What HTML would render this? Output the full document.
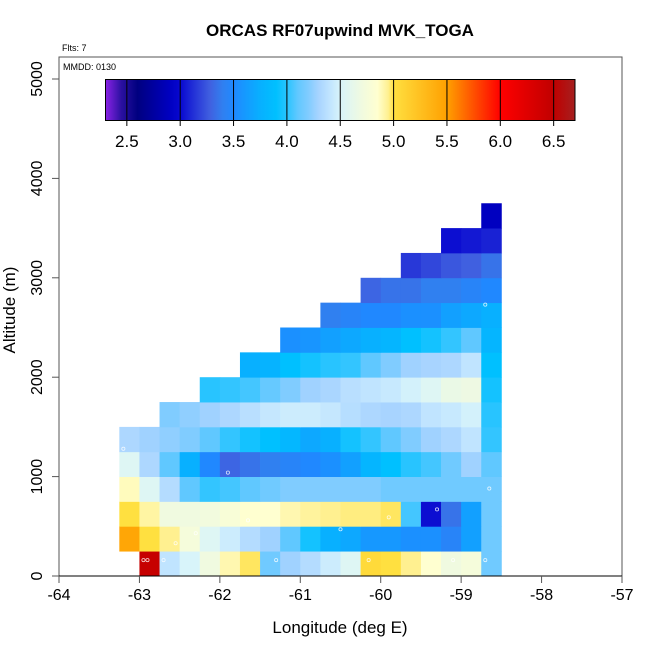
<!DOCTYPE html>
<html><head><meta charset="utf-8">
<style>
html,body{margin:0;padding:0;background:#fff;}
svg{display:block;font-family:"Liberation Sans",sans-serif;}
</style></head>
<body>
<svg id="chart" width="650" height="650" viewBox="0 0 650 650">
<text x="340" y="36" text-anchor="middle" font-size="17" font-weight="bold">ORCAS RF07upwind MVK_TOGA</text>
<text x="62" y="51" font-size="9">Flts: 7</text>
<g id="cells"></g>
<g id="markers"></g>
<rect x="59" y="57" width="563" height="519" fill="none" stroke="#555" stroke-width="1"/>
<text x="63" y="70" font-size="9">MMDD: 0130</text>
<defs><linearGradient id="cbgrad" x1="0" x2="1" y1="0" y2="0"></linearGradient></defs>
<rect id="cbar" y="79.5" height="41" fill="url(#cbgrad)" stroke="#000" stroke-width="1"/>
<g id="cbticks"></g>
<g id="xaxis"></g>
<g id="yaxis"></g>
<text x="340" y="633" text-anchor="middle" font-size="17">Longitude (deg E)</text>
<text transform="translate(15,310) rotate(-90)" text-anchor="middle" font-size="17">Altitude (m)</text>
</svg>
<script>
// Data
const lonStart = -63.25;      // west edge of first column
const lonStep = 0.25;
const altStep = 250;
// rowStartCol[k]: index of first filled column in row k (row 0 = 0-250 m)
const rowStartCol = [1,0,0,0,0,0,2,4,6,8,10,12,14,16,18];
const values = [
 [6.45,4.4,4.5,4.7,4.9,4.98,4.15,4.28,4.35,4.45,4.55,5.05,5.0,4.95,4.85,4.7,4.75,4.15],
 [5.45,5.0,4.95,4.75,4.55,4.45,4.35,4.28,4.1,3.95,3.75,3.7,3.6,3.6,3.55,3.55,3.45,3.65,4.15],
 [5.0,4.92,4.7,4.7,4.72,4.78,4.85,4.85,4.9,4.93,4.95,4.96,4.96,4.98,4.05,3.02,3.35,3.65,4.15],
 [4.88,4.55,4.35,4.1,4.02,4.05,4.1,4.15,4.2,4.2,4.2,4.2,4.2,4.15,4.15,4.15,4.15,4.15,4.15],
 [4.55,4.32,4.1,3.75,3.5,3.3,3.35,3.4,3.45,3.5,3.55,3.65,3.8,3.9,4.0,4.05,4.15,4.28,4.1],
 [4.32,4.28,4.24,4.2,4.1,4.02,3.95,3.9,3.82,3.7,3.75,3.95,4.02,4.1,4.2,4.28,4.32,4.4,4.02],
 [4.2,4.24,4.28,4.32,4.37,4.42,4.45,4.45,4.42,4.36,4.32,4.3,4.32,4.4,4.43,4.48,4.0],
 [4.0,4.02,4.05,4.12,4.2,4.28,4.31,4.37,4.4,4.43,4.48,4.55,4.65,4.68,3.95],
 [3.75,3.78,3.9,3.95,4.0,4.02,4.1,4.2,4.28,4.3,4.32,4.4,3.9],
 [3.55,3.58,3.65,3.7,3.75,3.8,3.9,3.95,4.02,4.1,3.8],
 [3.4,3.45,3.5,3.5,3.55,3.55,3.65,3.7,3.75],
 [3.3,3.35,3.35,3.4,3.4,3.45,3.5],
 [3.15,3.2,3.25,3.28,3.35],
 [3.02,3.05,3.08],
 [2.9]
];
const xTicks = [-64,-63,-62,-61,-60,-59,-58,-57];
const yTicks = [0,1000,2000,3000,4000,5000];
const cbTicks = [2.5,3.0,3.5,4.0,4.5,5.0,5.5,6.0,6.5];
const cbMin = 2.3, cbMax = 6.7;
const markerLon = [-62.95,-62.9,-62.7,-62.55,-61.3,-60.15,-59.1,-58.7,-58.65,-58.7,-63.2,-61.9,-60.5,-59.3,-62.3,-61.65,-59.9];
const markerAlt = [160,160,160,330,160,160,160,160,880,2730,1280,1040,470,670,430,560,590];
// colour scale stops (value, colour)
const stopVals = [2.3,2.45,2.6,2.9,3.0,3.15,3.28,3.4,3.5,3.75,3.9,4.0,4.1,4.2,4.3,4.4,4.5,4.7,4.85,4.95,5.0,5.5,6.0,6.5,6.7];
const stopCols = ["#8a22e6","#2a10a0","#000080","#0000c0","#0808d0","#2838d8","#4060e0","#3080f0","#2088ff","#08b0ff","#00c0ff","#28c4ff","#60c8ff","#80ccff","#a8d4ff","#c0e4ff","#d8f4fa","#f0fae0","#ffffd0","#fff090","#ffe040","#ffa000","#ff0000","#c00000","#a52020"];

const NS="http://www.w3.org/2000/svg";
const X = lon => 59 + (lon + 64) * (563/7);
const Y = alt => 576 - alt * 0.0994;
function hex(c){return [1,3,5].map(i=>parseInt(c.substr(i,2),16));}
function color(v){
  if(v<=stopVals[0]) return stopCols[0];
  for(let i=1;i<stopVals.length;i++){
    if(v<=stopVals[i]){
      const t=(v-stopVals[i-1])/(stopVals[i]-stopVals[i-1]);
      const a=hex(stopCols[i-1]), b=hex(stopCols[i]);
      return "rgb("+a.map((x,j)=>Math.round(x+(b[j]-x)*t)).join(",")+")";
    }
  }
  return stopCols[stopCols.length-1];
}
function mk(tag,attrs,parent){const e=document.createElementNS(NS,tag);for(const k in attrs)e.setAttribute(k,attrs[k]);parent.appendChild(e);return e;}

const cells=document.getElementById('cells');
values.forEach((row,k)=>{
  row.forEach((v,j)=>{
    if(v===null) return;
    const col=rowStartCol[k]+j;
    const lon0=lonStart+col*lonStep;
    const x0=X(lon0), x1=X(lon0+lonStep), y0=Y((k+1)*altStep), y1=Y(k*altStep);
    const r=mk('rect',{x:x0.toFixed(2),y:y0.toFixed(2),width:(x1-x0+0.4).toFixed(2),height:(y1-y0+0.4).toFixed(2),fill:color(v)},cells);
    
    
  });
});
const mg=document.getElementById('markers');
markerLon.forEach((lon,i)=>{
  const c=mk('circle',{cx:X(lon),cy:Y(markerAlt[i]),r:1.6,fill:"none",stroke:"#fff","stroke-width":0.8,opacity:0.8},mg);
  
  
});
// colorbar
const CBX = v => 105.5 + (v - cbMin) * (469.5/(cbMax-cbMin));
const cb=document.getElementById('cbar');
cb.setAttribute('x',CBX(cbMin)); cb.setAttribute('width',CBX(cbMax)-CBX(cbMin));
const grad=document.getElementById('cbgrad');
stopVals.forEach((v,i)=>{mk('stop',{offset:((v-cbMin)/(cbMax-cbMin)).toFixed(4),'stop-color':stopCols[i]},grad);});
const cbt=document.getElementById('cbticks');
cbTicks.forEach(v=>{
  const x=CBX(v);
  const l=mk('line',{x1:x,x2:x,y1:79.5,y2:126,stroke:"#000","stroke-width":1},cbt);
  
  
  const t=mk('text',{x:x,y:147,'text-anchor':'middle','font-size':17},cbt);
  t.textContent=v.toFixed(1);
  
  
});
// axes
const xa=document.getElementById('xaxis');
mk('line',{x1:X(-64),x2:X(-57),y1:576,y2:576,stroke:"#000","stroke-width":1},xa);
xTicks.forEach(v=>{
  const x=X(v);
  const l=mk('line',{x1:x,x2:x,y1:576,y2:583,stroke:"#555","stroke-width":1},xa);
  
  
  const t=mk('text',{x:x,y:600,'text-anchor':'middle','font-size':16},xa);
  t.textContent=v;
  
  
});
const ya=document.getElementById('yaxis');
yTicks.forEach(v=>{
  const y=Y(v);
  const l=mk('line',{x1:52,x2:59,y1:y,y2:y,stroke:"#555","stroke-width":1},ya);
  
  
  const t=mk('text',{transform:`translate(42,${y}) rotate(-90)`,'text-anchor':'middle','font-size':16},ya);
  t.textContent=v;
  
  
});
</script>
</body></html>
